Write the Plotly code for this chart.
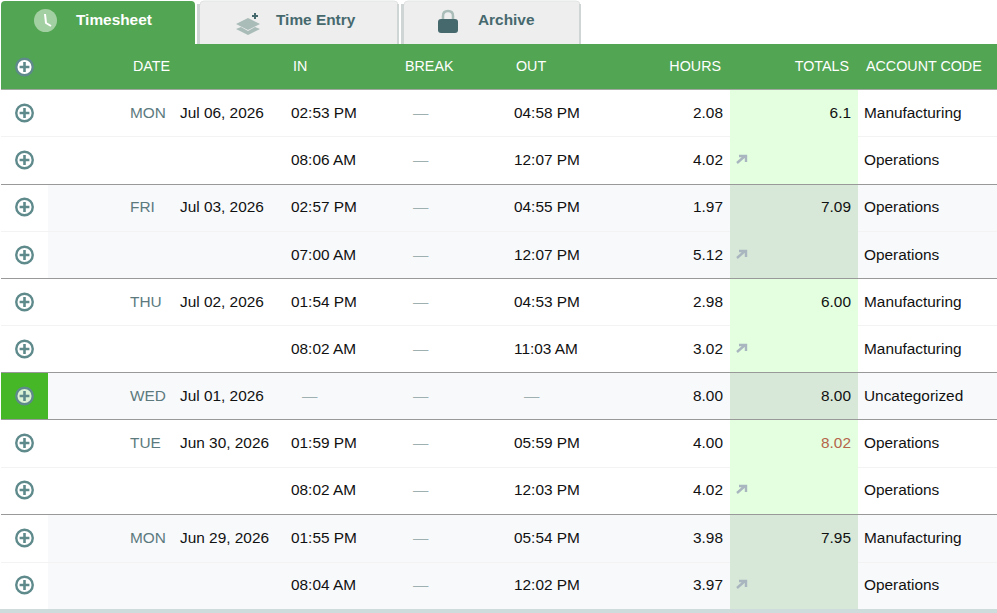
# coding: utf-8
import plotly.graph_objects as go

# table data
days = ["MON", "", "FRI", "", "THU", "", "WED", "TUE", "", "MON", ""]
dates = ["Jul 06, 2026", "", "Jul 03, 2026", "", "Jul 02, 2026", "", "Jul 01, 2026",
         "Jun 30, 2026", "", "Jun 29, 2026", ""]
time_in = ["02:53 PM", "08:06 AM", "02:57 PM", "07:00 AM", "01:54 PM", "08:02 AM", "—",
           "01:59 PM", "08:02 AM", "01:55 PM", "08:04 AM"]
breaks = ["—"] * 11
time_out = ["04:58 PM", "12:07 PM", "04:55 PM", "12:07 PM", "04:53 PM", "11:03 AM", "—",
            "05:59 PM", "12:03 PM", "05:54 PM", "12:02 PM"]
hours = ["2.08", "4.02", "1.97", "5.12", "2.98", "3.02", "8.00", "4.00", "4.02", "3.98", "3.97"]
totals = ["6.1", "", "7.09", "", "6.00", "", "8.00", "8.02", "", "7.95", ""]
accounts = ["Manufacturing", "Operations", "Operations", "Operations", "Manufacturing",
            "Manufacturing", "Uncategorized", "Operations", "Operations", "Manufacturing",
            "Operations"]
headers = ["DATE", "IN", "BREAK", "OUT", "HOURS", "TOTALS", "ACCOUNT CODE"]
tabs = ["Timesheet", "Time Entry", "Archive"]

GREEN = "#52a552"
TEAL = "#5f8a8c"
INK = "#111111"
FONT = "Liberation Sans"

row_edges = [90, 137, 184.5, 232, 278.5, 326, 372.5, 419.5, 467, 514.5, 562, 609]
row_mid = [114, 161, 208, 256, 303, 350, 397, 444, 491, 539, 586]
icon_mid = [113, 160, 207, 255, 302, 349, 396, 443, 490, 538, 585]
zebra = [2, 3, 6, 9, 10]
group_lines = [184.5, 278.5, 372.5, 419.5, 514.5]
soft_lines = [136.5, 231.5, 325.5, 467.5, 562.5]

fig = go.Figure()
shapes = []


def rect(x0, y0, x1, y1, color):
    shapes.append(dict(type="rect", x0=x0, y0=y0, x1=x1, y1=y1, fillcolor=color,
                       line_width=0, layer="below"))


def path(d, fill=None, line=None, width=0, layer="above"):
    shapes.append(dict(type="path", path=d, fillcolor=fill or "rgba(0,0,0,0)",
                       line=dict(color=line or "rgba(0,0,0,0)", width=width), layer=layer))


def texts(x, y, labels, color=INK, size=15.4, pos="middle right", weight=None):
    fig.add_trace(go.Scatter(x=x, y=y, text=labels, mode="text", textposition=pos,
                             textfont=dict(family=FONT, size=size, color=color, weight=weight),
                             hoverinfo="skip", showlegend=False))


# backgrounds
for i in range(11):
    y0, y1 = row_edges[i], row_edges[i + 1]
    if i in zebra:
        rect(48, y0, 997, y1, "#f8f9fb")
        rect(730, y0, 858, y1, "#d7e8d8")
    else:
        rect(730, y0, 858, y1, "#e3ffe0")
rect(1, 373, 48, 419, "#46b827")
rect(0, 609, 997, 613, "#cfdcdc")
rect(1, 44, 997, 89, GREEN)
rect(1, 89, 997, 90, "#a0a8a0")

# tabs
path("M1,44 L1,5 Q1,1 5,1 L191,1 Q195,1 195,5 L195,44 Z", fill=GREEN, layer="below")
for x0, x1 in [(200, 398), (404, 580)]:
    path(f"M{x0},44 L{x0},5 Q{x0},1 {x0+4},1 L{x1-4},1 Q{x1},1 {x1},5 L{x1},44 Z",
         fill="#eeeeee", layer="below")
    path(f"M{x0},5 Q{x0},1 {x0+4},1 L{x1-4},1 Q{x1},1 {x1},5", line="#e2e4e4", width=1, layer="below")
    path(f"M{x0-1.5},44 L{x0-1.5},4", line="#cfd4d4", width=3, layer="below")
    path(f"M{x1},44 L{x1},4", line="#cfd4d4", width=2, layer="below")

# rules
for y in soft_lines:
    shapes.append(dict(type="line", x0=1, x1=730, y0=y, y1=y, line=dict(color="#f3f3f3", width=1)))
    shapes.append(dict(type="line", x0=858, x1=997, y0=y, y1=y, line=dict(color="#f3f3f3", width=1)))
for y in group_lines:
    shapes.append(dict(type="line", x0=1, x1=997, y0=y, y1=y, line=dict(color="#999999", width=1)))

# tab icons
fig.add_trace(go.Scatter(x=[45.5], y=[20.5], mode="markers", hoverinfo="skip", showlegend=False,
                         marker=dict(size=23, color="#a3d0a3", line_width=0)))
path("M45,14 L46,23 L51,26", line="#ffffff", width=2)
path("M236,24 L248,18 L260,24 L248,30 Z", fill="#a9bcb8")
path("M236,29 L241,27 L248,31 L255,27 L260,29 L248,35 Z", fill="#a9bcb8")
path("M252,16 L258,16 M255,13 L255,19", line="#46696e", width=2)
path("M443,20 L443,16 Q443,11 448,11 Q453,11 453,16 L453,20", line="#a9bcb8", width=2.5)
path("M438,22 Q438,19 441,19 L455,19 Q458,19 458,22 L458,30 Q458,33 455,33 L441,33 Q438,33 438,30 Z",
     fill="#46696e")

# trend arrows on the second row of each day
for i, t in enumerate(totals):
    if t == "" and i != 6:
        y = icon_mid[i]
        path(f"M737,{y+3} L745,{y-4} M739,{y-4} L746,{y-4} L746,{y+2}", line="#a9b6bf", width=2.4)

# add buttons
plus_x = [24.5] * 12
plus_y = [67] + icon_mid
plus_fill = ["#ffffff"] + ["rgba(255,255,255,0)"] * 6 + ["rgba(255,255,255,0.8)"] + \
            ["rgba(255,255,255,0)"] * 5
fig.add_trace(go.Scatter(x=plus_x, y=plus_y, mode="markers", hoverinfo="skip", showlegend=False,
                         marker=dict(size=16.5, color=plus_fill, line=dict(color=TEAL, width=2.4))))
fig.add_trace(go.Scatter(x=plus_x, y=plus_y, mode="markers", hoverinfo="skip", showlegend=False,
                         marker=dict(size=7, symbol="cross-thin", line=dict(color=TEAL, width=2.6))))

# tab titles
texts([76], [21], tabs[:1], color="#ffffff", size=15.4, weight="bold")
texts([276, 478], [21, 21], tabs[1:], color="#46696e", size=15.4, weight="bold")

# header
texts([133, 293, 405, 516], [67] * 4, headers[:4], color="#ffffff", size=14.3)
texts([721, 849], [67, 67], headers[4:6], color="#ffffff", size=14.3, pos="middle left")
texts([866], [67], headers[6:], color="#ffffff", size=14.3)

# table columns
texts([130] * 11, row_mid, days, color="#5c7a7e")
texts([180] * 11, row_mid, dates)
texts([291 if t != "—" else 302 for t in time_in], row_mid, time_in,
      color=[INK if t != "—" else "#9fb0b0" for t in time_in])
texts([413] * 11, row_mid, breaks, color="#9fb0b0")
texts([514 if t != "—" else 524 for t in time_out], row_mid, time_out,
      color=[INK if t != "—" else "#9fb0b0" for t in time_out])
texts([723] * 11, row_mid, hours, pos="middle left")
texts([851] * 11, row_mid, totals, pos="middle left",
      color=["#b5654a" if t == "8.02" else INK for t in totals])
texts([864] * 11, row_mid, accounts)

fig.update_layout(width=997, height=613, margin=dict(l=0, r=0, t=0, b=0),
                  paper_bgcolor="#ffffff", plot_bgcolor="#ffffff", shapes=shapes,
                  showlegend=False, hovermode=False,
                  xaxis=dict(range=[0, 997], visible=False, fixedrange=True),
                  yaxis=dict(range=[613, 0], visible=False, fixedrange=True))

fig.write_html("out.html", config={"displayModeBar": False},
               post_script="document.body.style.margin='0';document.body.style.overflow='hidden';")
